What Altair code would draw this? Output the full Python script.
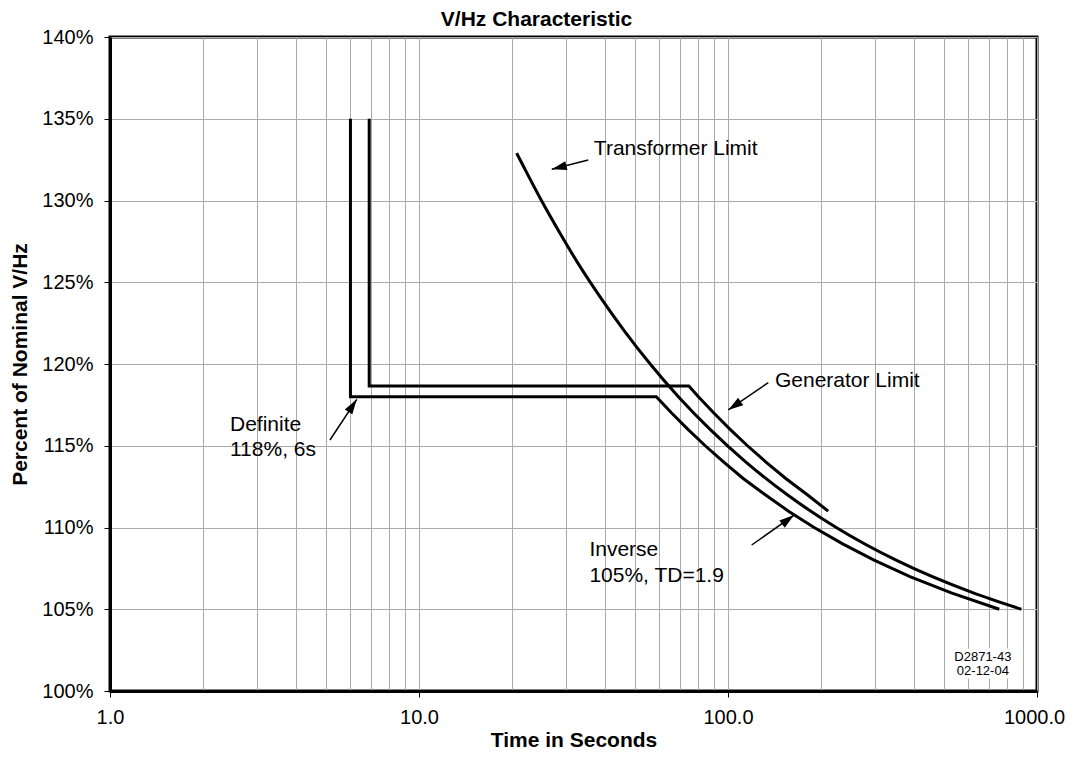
import altair as alt
import pandas as pd

FONT = "Liberation Sans, Arial, sans-serif"
GRID = "#ababab"

# ---- curve data (time in s, percent V/Hz) ----
def_t = [6, 6, 58.6, 65.7, 74.2, 84.4, 96.9, 112, 132, 157, 190, 235, 297, 388, 528, 755]
def_v = [135, 118, 118, 117, 116, 115, 114, 113, 112, 111, 110, 109, 108, 107, 106, 105]

gen_t = [6.9, 6.9, 74.7, 80.2, 90.0, 101.6, 115.6, 132.7, 153.8, 180.6, 211]
gen_v = [135, 118.65, 118.65, 118, 117, 116, 115, 114, 113, 112, 111]

xf_t = [20.7, 21.9, 24.9, 28.6, 33.1, 38.9, 46.3, 56.0, 69.1, 87.5, 114.3, 155.6, 224, 350, 622, 890]
xf_v = [132.9, 132, 130, 128, 126, 124, 122, 120, 118, 116, 114, 112, 110, 108, 106, 105]

# ---- annotations ----
lab_text = ["Transformer Limit", "Generator Limit", "Definite", "118%, 6s", "Inverse", "105%, TD=1.9"]
lab_t = [36.8, 141.9, 2.445, 2.445, 35.6, 35.6]
lab_v = [133.13, 118.96, 116.27, 114.74, 108.62, 107.03]

arr_tail_t = [35.3, 135.0, 5.15, 119.3]
arr_tail_v = [132.48, 118.86, 115.35, 108.93]
arr_tip_t = [26.9, 100.2, 6.29, 163.6]
arr_tip_v = [131.91, 117.19, 117.84, 110.76]
arr_angle = [255.7, 235.7, 33.3, 53.1]

stamp_text = ["D2871-43", "02-12-04"]
stamp_t = [668, 668]
stamp_v = [102.1, 101.24]

x_grid_vals = [1, 2, 3, 4, 5, 6, 7, 8, 9,
               10, 20, 30, 40, 50, 60, 70, 80, 90,
               100, 200, 300, 400, 500, 600, 700, 800, 900, 1000]
y_vals = [100, 105, 110, 115, 120, 125, 130, 135, 140]

# ---- tables ----
rows = []
for i, (t, v) in enumerate(zip(def_t, def_v)):
    rows.append({"t": t, "v": v, "series": "definite", "o": i})
for i, (t, v) in enumerate(zip(gen_t, gen_v)):
    rows.append({"t": t, "v": v, "series": "generator", "o": i})
lines_df = pd.DataFrame(rows)
xf_df = pd.DataFrame({"t": xf_t, "v": xf_v})
lab_df = pd.DataFrame({"t": lab_t, "v": lab_v, "txt": lab_text})
arr_df = pd.DataFrame({"t": arr_tail_t, "v": arr_tail_v, "t2": arr_tip_t, "v2": arr_tip_v})
head_df = pd.DataFrame({"t": arr_tip_t, "v": arr_tip_v, "ang": arr_angle})
stamp_df = pd.DataFrame({"t": stamp_t, "v": stamp_v, "txt": stamp_text})

dec_test = "datum.value == 1 || datum.value == 10 || datum.value == 100 || datum.value == 1000"

x_axis = alt.Axis(
    values=x_grid_vals, grid=True, gridColor=GRID, gridWidth=1,
    domain=True, domainColor="black", domainWidth=3,
    ticks=True, tickSize=6, tickColor="black", tickWidth=1,
    tickOpacity={"condition": {"test": dec_test, "value": 1}, "value": 0},
    labelExpr=f"({dec_test}) ? format(datum.value, '.1f') : ''",
    labelOffset={"condition": {"test": "datum.value == 1000", "value": -3}, "value": 0},
    labelFont=FONT, labelFontSize=20, labelColor="black", labelPadding=10,
    labelFlush=False, labelOverlap=False,
    title="Time in Seconds", titleFont=FONT, titleFontSize=21, titleFontWeight="bold",
    titleColor="black", titlePadding=2,
)
y_axis = alt.Axis(
    values=y_vals, grid=True, gridColor=GRID, gridWidth=1,
    domain=True, domainColor="black", domainWidth=3,
    ticks=True, tickSize=6, tickColor="black", tickWidth=1,
    labelExpr="datum.value + '%'",
    labelFont=FONT, labelFontSize=20, labelColor="black", labelPadding=11,
    labelFlush=False, labelOverlap=False,
    title="Percent of Nominal V/Hz", titleFont=FONT, titleFontSize=21, titleFontWeight="bold",
    titleColor="black", titlePadding=11,
)
x_scale = alt.Scale(type="log", domain=[1, 1000])
y_scale = alt.Scale(domain=[100, 140], zero=False)


def X(field="t"):
    return alt.X(f"{field}:Q", scale=x_scale, axis=x_axis)


def Y(field="v"):
    return alt.Y(f"{field}:Q", scale=y_scale, axis=y_axis)


lines = alt.Chart(lines_df).mark_line(
    color="black", strokeWidth=3, strokeJoin="miter", strokeCap="butt"
).encode(x=X(), y=Y(), detail="series:N", order="o:Q")

xf_line = alt.Chart(xf_df).mark_line(
    color="black", strokeWidth=3, strokeCap="butt", interpolate="monotone"
).encode(x=X(), y=Y())

arrows = alt.Chart(arr_df).mark_rule(color="black", strokeWidth=1.5).encode(
    x=X(), y=Y(), x2="t2:Q", y2="v2:Q"
)

heads = alt.Chart(head_df).mark_point(
    shape="M0,0 L0.6,2 L-0.6,2 Z", filled=True, color="black", size=225, opacity=1, strokeWidth=0
).encode(x=X(), y=Y(), angle=alt.Angle("ang:Q", scale=None))

labels = alt.Chart(lab_df).mark_text(
    align="left", baseline="middle", font=FONT, fontSize=21, color="black"
).encode(x=X(), y=Y(), text="txt:N")

stamp_halo = alt.Chart(stamp_df).mark_text(
    align="center", baseline="middle", font=FONT, fontSize=13, color="white",
    stroke="white", strokeWidth=7
).encode(x=X(), y=Y(), text="txt:N")

stamp = alt.Chart(stamp_df).mark_text(
    align="center", baseline="middle", font=FONT, fontSize=13, color="black"
).encode(x=X(), y=Y(), text="txt:N")

chart = alt.layer(lines, xf_line, arrows, heads, labels, stamp_halo, stamp).properties(
    width=927,
    height=654,
    title=alt.Title(
        "V/Hz Characteristic", font=FONT, fontSize=21, fontWeight="bold", color="black",
        anchor="middle", dx=-37, dy=31, offset=11, baseline="alphabetic",
    ),
    autosize=alt.AutoSizeParams(type="none"),
    padding={"left": 102, "top": 29, "right": 28, "bottom": 59},
).configure_view(stroke="black", strokeWidth=3)

chart.save("out.html", embed_options={"renderer": "svg", "actions": False})
